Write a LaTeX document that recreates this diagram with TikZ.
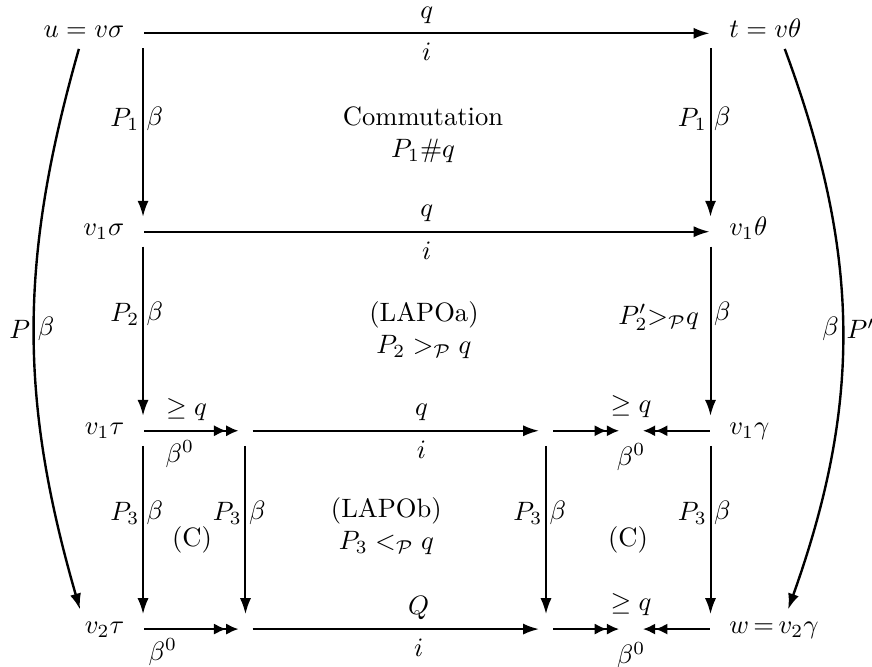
\documentclass[tikz,border=0pt]{standalone}
\usepackage{amsmath}
\usepackage{amssymb}
\usetikzlibrary{arrows.meta, positioning}

\begin{document}
\begin{tikzpicture}[
  >={Latex[length=6pt,width=4.2pt]},
  line width=0.75pt,
  dbl/.style={-{Latex[length=4.6pt,width=4.2pt,sep=0pt]Latex[length=4.6pt,width=4.2pt]}},
  corner/.style={inner sep=0pt, minimum width=0pt, minimum height=0.37cm},
  mid/.style={inner sep=0pt, minimum width=0.16cm, minimum height=0.37cm},
  meet/.style={inner sep=0pt, minimum width=0.29cm, minimum height=0.15cm},
  obj/.style={inner sep=3.33pt, text height=1.2ex, text depth=0.5ex},
  lab/.style={inner sep=1pt},
  tag/.style={inner sep=2pt},
]
  \useasboundingbox (0,0) rectangle (11.534,8.810);

  \node[corner] (u) at (1.892,8.369) {};
  \node[corner] (t) at (9.398,8.369) {};
  \node[corner] (v1s) at (1.892,5.745) {};
  \node[corner] (v1th) at (9.398,5.745) {};
  \node[corner] (v1ta) at (1.892,3.112) {};
  \node[mid] (a3) at (3.247,3.112) {};
  \node[mid] (b3) at (7.222,3.112) {};
  \node[meet, label={[tag]above:$\geq q$}, label={[tag]below:$\beta^0$}] (m3) at (8.347,3.112) {};
  \node[corner] (v1g) at (9.398,3.112) {};
  \node[corner] (v2ta) at (1.892,0.489) {};
  \node[mid] (a4) at (3.247,0.489) {};
  \node[mid] (b4) at (7.222,0.489) {};
  \node[meet, label={[tag]above:$\geq q$}, label={[tag]below:$\beta^0$}] (m4) at (8.347,0.489) {};
  \node[corner] (w) at (9.398,0.489) {};

  \node[obj, left=3pt of u] (ut) {$u = v\sigma$};
  \node[obj, right=3pt of t] (tt) {$t = v\theta$};
  \node[obj, left=3pt of v1s] (v1st) {$v_1\sigma$};
  \node[obj, right=3pt of v1th] (v1tht) {$v_1\theta$};
  \node[obj, left=3pt of v1ta] (v1tat) {$v_1\tau$};
  \node[obj, right=3pt of v1g] (v1gt) {$v_1\gamma$};
  \node[obj, left=3pt of v2ta] (v2tat) {$v_2\tau$};
  \node[obj, right=3pt of w] (wt) {$w\,{=}\,v_2\gamma$};

  \node[align=center] (comm) at (5.595,7.024) {Commutation\\ $P_1\#q$};
  \node[align=center] (lapoa) at (5.608,4.444) {(LAPOa)\\ $P_2 >_{\mathcal{P}} q$};
  \node[align=center] (lapob) at (5.11,1.852) {(LAPOb)\\ $P_3 <_{\mathcal{P}} q$};
  \node (cl) at (2.54,1.667) {(C)};
  \node (cr) at (8.307,1.667) {(C)};

  \draw[->] (u) -- node[above] {$q$} node[below] {$i$} (t);
  \draw[->] (v1s) -- node[above] {$q$} node[below] {$i$} (v1th);
  \draw[dbl] (v1ta) -- node[above, pos=0.45] {$\geq q$} node[below, pos=0.38] {$\beta^0$} (a3);
  \draw[->] (a3) -- node[above, pos=0.59] {$q$} node[below, pos=0.59] {$i$} (b3);
  \draw[dbl] (b3) -- (m3);
  \draw[dbl] (v1g) -- (m3);
  \draw[dbl] (v2ta) -- node[below, pos=0.2] {$\beta^0$} (a4);
  \draw[->] (a4) -- node[above, pos=0.58] {$Q$} node[below, pos=0.58] {$i$} (b4);
  \draw[dbl] (b4) -- (m4);
  \draw[dbl] (w) -- (m4);

  \draw[->] (u) -- node[lab, left, pos=0.42] {$P_1$} node[lab, right, pos=0.42] {$\beta$} (v1s);
  \draw[->] (t) -- node[lab, left, pos=0.42] {$P_1$} node[lab, right, pos=0.42] {$\beta$} (v1th);
  \draw[->] (v1s) -- node[lab, left, pos=0.4] {$P_2$} node[lab, right, pos=0.4] {$\beta$} (v1ta);
  \draw[->] (v1th) -- node[lab, left, pos=0.42, xshift=-3pt] {$P_2'{>_{\mathcal{P}}}q$} node[lab, right, pos=0.4] {$\beta$} (v1g);
  \draw[->] (v1ta) -- node[lab, left, pos=0.4] {$P_3$} node[lab, right, pos=0.4] {$\beta$} (v2ta);
  \draw[->] (a3) -- node[lab, left, pos=0.4] {$P_3$} node[lab, right, pos=0.4] {$\beta$} (a4);
  \draw[->] (b3) -- node[lab, left, pos=0.4] {$P_3$} node[lab, right, pos=0.4] {$\beta$} (b4);
  \draw[->] (v1g) -- node[lab, left, pos=0.4] {$P_3$} node[lab, right, pos=0.4] {$\beta$} (w);

  \draw[->, line width=0.9pt] ([xshift=-1.9pt,yshift=1.5pt]ut.south) to[bend right=16]
    node[lab, left] {$P$} node[lab, right] {$\beta$} ([xshift=1.9pt]v2tat.north west);
  \draw[->, line width=0.9pt] ([xshift=7.3pt,yshift=1.5pt]tt.south) to[bend left=20]
    node[lab, left] {$\beta$} node[lab, right] {$P'$} ([xshift=5.3pt]wt.north);
\end{tikzpicture}
\end{document}
